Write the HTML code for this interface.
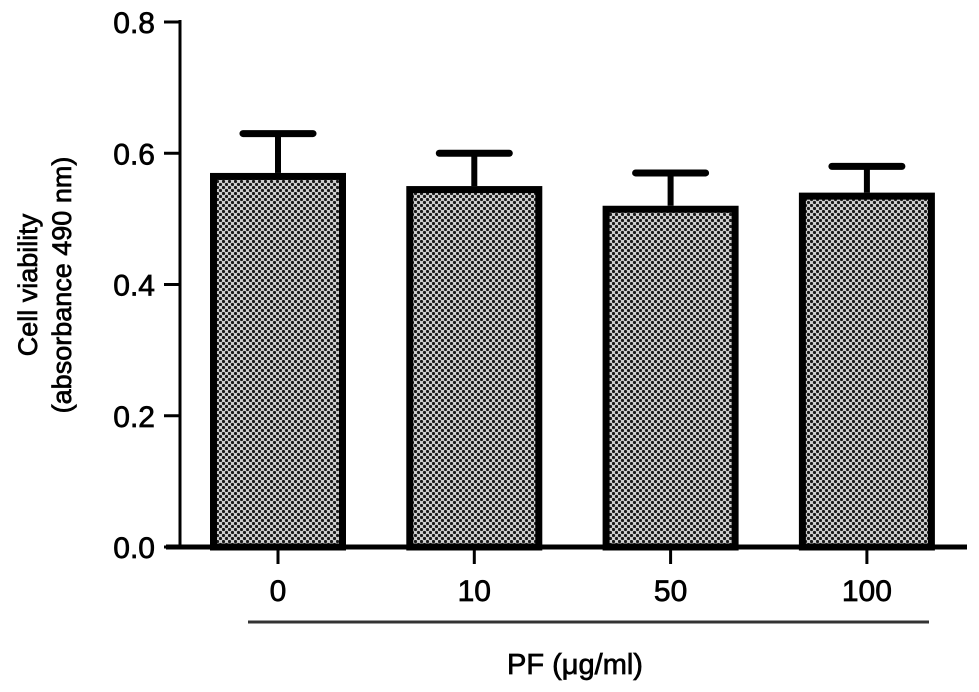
<!DOCTYPE html>
<html><head><meta charset="utf-8"><style>
html,body{margin:0;padding:0;background:#fff;}
svg{display:block;font-family:"Liberation Sans",Arial,sans-serif;}
text{stroke:#000;stroke-width:0.7px;}
</style></head><body>
<svg id="chart" width="979" height="692" viewBox="0 0 979 692">
<defs>
<pattern id="dots" width="6" height="6" patternUnits="userSpaceOnUse">
<rect width="6" height="6" fill="#cfcfcf"/>
<circle cx="1.5" cy="1.5" r="1.6" fill="#1a1a1a"/>
<circle cx="4.5" cy="4.5" r="1.6" fill="#1a1a1a"/>
</pattern>
</defs>
<g id="marks"></g>
</svg>
<script>
const categories = ["0","10","50","100"];
const means = [0.57,0.55,0.52,0.54];
const errors = [0.06,0.05,0.05,0.04];
const yTicks = [0.0,0.2,0.4,0.6,0.8];
const yTickLabels = ["0.0","0.2","0.4","0.6","0.8"];

const NS="http://www.w3.org/2000/svg";
const svg=document.getElementById('chart');
const g=document.getElementById('marks');
const y0=547, yTop=22, yMax=0.8;
function y(v){return y0-(v/yMax)*(y0-yTop);}
const step=196.3, xFirst=278, barW=136;
function x(i){return xFirst+i*step;}
function mk(tag,attrs){const e=document.createElementNS(NS,tag);for(const k in attrs)e.setAttribute(k,attrs[k]);g.appendChild(e);return e;}

categories.forEach((c,i)=>{
  const cx=x(i), top=y(means[i]), et=y(means[i]+errors[i]);
  const stem=mk('line',{x1:cx,x2:cx,y1:top,y2:et,stroke:'#000','stroke-width':6});
  
  
  const cap=mk('line',{x1:cx-35,x2:cx+35,y1:et,y2:et,stroke:'#000','stroke-width':7,'stroke-linecap':'round'});
  
  
  const r=mk('rect',{x:cx-barW/2+3.5,y:top+3.5,width:barW-7,height:y0-top-3.5,fill:'url(#dots)',stroke:'#000','stroke-width':7});
  
  
  const t=mk('line',{x1:cx,x2:cx,y1:y0,y2:y0+17,stroke:'#000','stroke-width':3});
  
  
  const l=mk('text',{x:cx,y:601,'text-anchor':'middle','font-size':30,fill:'#000'});
  l.textContent=c;
  
  
});
yTicks.forEach((v,i)=>{
  const t=mk('line',{x1:164,x2:180,y1:y(v),y2:y(v),stroke:'#000','stroke-width':3});
  
  
  const l=mk('text',{x:155,y:y(v)+11,'text-anchor':'end','font-size':30,fill:'#000'});
  l.textContent=yTickLabels[i];
  
  
});
const ya=mk('line',{x1:180,x2:180,y1:yTop-2,y2:y0+2,stroke:'#000','stroke-width':3});


const xa=mk('line',{x1:166,x2:967,y1:y0,y2:y0,stroke:'#000','stroke-width':5});


const ul=mk('line',{x1:248,x2:929,y1:622,y2:622,stroke:'#333','stroke-width':3});


const xt=mk('text',{x:575,y:674,'text-anchor':'middle','font-size':29,fill:'#000'});
xt.textContent='PF (μg/ml)';


const yt=mk('text',{transform:'translate(0,285) rotate(-90)','text-anchor':'middle','font-size':27,fill:'#000'});


const s1=document.createElementNS(NS,'tspan');s1.setAttribute('x',0);s1.setAttribute('y',37);s1.textContent='Cell viability';yt.appendChild(s1);
const s2=document.createElementNS(NS,'tspan');s2.setAttribute('x',0);s2.setAttribute('y',71);s2.textContent='(absorbance 490 nm)';yt.appendChild(s2);
</script>
</body></html>
